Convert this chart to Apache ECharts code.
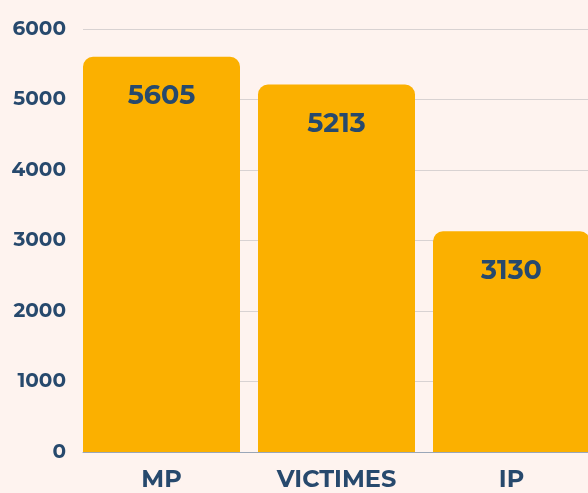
<!DOCTYPE html>
<html><head><meta charset="utf-8">
<script src="https://cdn.jsdelivr.net/npm/echarts@6/dist/echarts.min.js"></script>
<style>html,body{margin:0;padding:0;background:#FEF3EF;}#c{width:588px;height:493px;}</style>
</head><body><div id="c"></div>
<script>
const categories = ['MP', 'VICTIMES', 'IP'];
const values = [5605, 5213, 3130];
const yTicks = [0, 1000, 2000, 3000, 4000, 5000, 6000];

const textColor = '#27496D';
const font = 'Montserrat, "Open Sans", sans-serif';
const chart = echarts.init(document.getElementById('c'));
chart.setOption({
  backgroundColor: '#FEF3EF',
  animation: false,
  grid: { left: 83, top: 29, bottom: 41, right: -20, outerBoundsMode: 'none', containLabel: false },
  xAxis: {
    type: 'category', data: categories,
    axisTick: { show: false },
    axisLine: { lineStyle: { color: '#9aa6b8', width: 1 } },
    axisLabel: { color: textColor, fontFamily: font, fontWeight: 'bold', fontSize: 24, margin: 16, padding: [0, 18, 0, 0] }
  },
  yAxis: {
    type: 'value', min: yTicks[0], max: yTicks[yTicks.length - 1], interval: 1000,
    axisLine: { show: false }, axisTick: { show: false },
    splitLine: { lineStyle: { color: '#d8d2d2', width: 1 } },
    axisLabel: { color: textColor, fontFamily: font, fontWeight: 'bold', fontSize: 20, margin: 17, formatter: v => String(v) }
  },
  series: [
    {
      type: 'bar', data: values, barWidth: 157, barGap: '0%', barCategoryGap: '0%',
      itemStyle: { color: '#FBB000', borderRadius: [10, 10, 0, 0] },
      label: { show: true, position: 'insideTop', distance: 26, color: textColor, fontFamily: font, fontWeight: 'bold', fontSize: 27 }
    },
    {
      type: 'bar', data: categories.map(() => null), barWidth: 18, barGap: '0%',
      itemStyle: { color: 'transparent' }, silent: true
    }
  ]
});
</script></body></html>
